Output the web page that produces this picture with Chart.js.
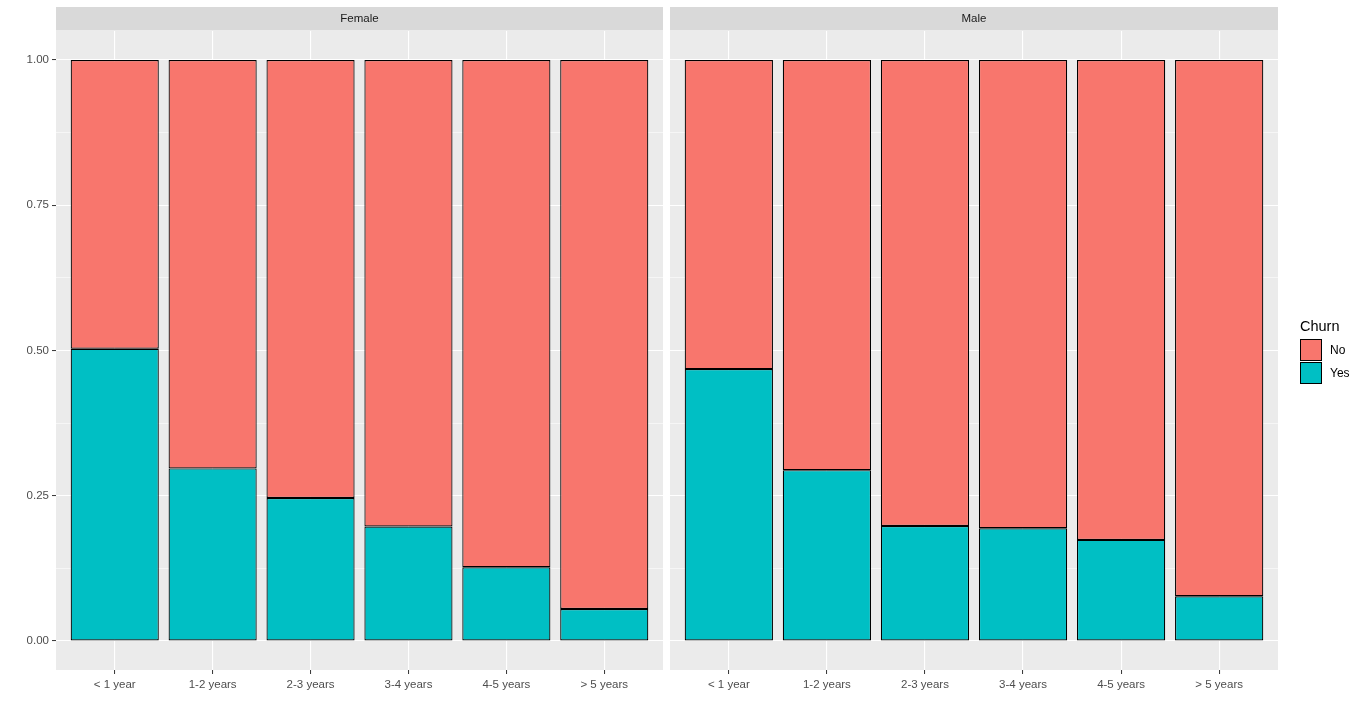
<!DOCTYPE html>
<html>
<head>
<meta charset="utf-8">
<script src="https://cdn.jsdelivr.net/npm/chart.js@4/dist/chart.umd.min.js"></script>
<style>
  html, body { margin: 0; padding: 0; background: #fff; }
  #wrap { position: relative; width: 1366px; height: 715px; }
  canvas { position: absolute; top: 0; }
  #cFemale { left: 0; }
  #cMale { left: 666px; }
</style>
</head>
<body>
<div id="wrap">
  <canvas id="cFemale" width="666" height="715"></canvas>
  <canvas id="cMale" width="700" height="715"></canvas>
</div>
<script>
// ===== datos =====
const categorias = ["< 1 year", "1-2 years", "2-3 years", "3-4 years", "4-5 years", "> 5 years"];
const femaleYes = [0.503, 0.297, 0.246, 0.197, 0.127, 0.055];
const femaleNo  = [0.497, 0.703, 0.754, 0.803, 0.873, 0.945];
const maleYes   = [0.468, 0.294, 0.198, 0.194, 0.174, 0.077];
const maleNo    = [0.532, 0.706, 0.802, 0.806, 0.826, 0.923];
const yTicks    = [0, 0.25, 0.5, 0.75, 1];
const yMinor    = [0.125, 0.375, 0.625, 0.875];

const COLOR_NO = "#F8766D";
const COLOR_YES = "#00BFC4";
const FONT = "'Liberation Sans', Arial, sans-serif";

function esMayor(v) {
  return yTicks.some(t => Math.abs(t - v) < 1e-9);
}

function puntos(valores) {
  return valores.map((v, i) => ({ x: i + 1, y: v }));
}

// panel gris + tira con el titulo
const panelPlugin = {
  id: "panel",
  beforeDraw(chart, args, opts) {
    const { ctx, chartArea: a } = chart;
    ctx.save();
    ctx.fillStyle = "#EBEBEB";
    ctx.fillRect(a.left, 30, a.right - a.left, a.bottom - 30);
    ctx.fillStyle = "#D9D9D9";
    ctx.fillRect(a.left, 7, a.right - a.left, 23);
    ctx.fillStyle = "#1A1A1A";
    ctx.font = "11.5px " + FONT;
    ctx.textAlign = "center";
    ctx.textBaseline = "middle";
    ctx.fillText(opts.titulo, (a.left + a.right) / 2, 19);
    ctx.restore();
  }
};

// leyenda a la derecha (solo en el panel Male)
const leyendaPlugin = {
  id: "leyenda",
  afterDraw(chart, args, opts) {
    if (!opts.mostrar) return;
    const ctx = chart.ctx;
    const x = 1300 - 666;
    ctx.save();
    ctx.fillStyle = "#000";
    ctx.font = "14.5px " + FONT;
    ctx.textBaseline = "alphabetic";
    ctx.fillText("Churn", x, 331);
    const items = [["No", COLOR_NO, 339], ["Yes", COLOR_YES, 362]];
    items.forEach(([txt, col, y]) => {
      ctx.fillStyle = col;
      ctx.fillRect(x, y, 22, 22);
      ctx.strokeStyle = "#000";
      ctx.lineWidth = 1;
      ctx.strokeRect(x + 0.5, y + 0.5, 21, 21);
      ctx.fillStyle = "#000";
      ctx.font = "12px " + FONT;
      ctx.textBaseline = "middle";
      ctx.fillText(txt, x + 30, y + 12);
    });
    ctx.restore();
  }
};

function crearPanel(id, titulo, yes, no, conEjeY, conLeyenda, padding) {
  return new Chart(document.getElementById(id).getContext("2d"), {
    type: "bar",
    data: {
      datasets: [
        { label: "Yes", data: puntos(yes), backgroundColor: COLOR_YES },
        { label: "No",  data: puntos(no),  backgroundColor: COLOR_NO }
      ]
    },
    options: {
      responsive: false,
      animation: false,
      devicePixelRatio: 1,
      datasets: {
        bar: {
          borderColor: "#000",
          borderWidth: 1.2,
          borderSkipped: false,
          categoryPercentage: 1,
          barPercentage: 0.9
        }
      },
      layout: { padding },
      plugins: {
        legend: { display: false },
        tooltip: { enabled: false },
        panel: { titulo },
        leyenda: { mostrar: conLeyenda }
      },
      scales: {
        x: {
          type: "linear",
          stacked: true,
          offset: false,
          min: 0.4,
          max: 6.6,
          afterBuildTicks: s => { s.ticks = categorias.map((c, i) => ({ value: i + 1 })); },
          afterFit: s => { s.height = 45; },
          border: { display: false },
          grid: {
            offset: false,
            color: "#FFFFFF",
            lineWidth: 1.1,
            drawTicks: true,
            tickLength: 4,
            tickColor: "#333333",
            tickWidth: 1
          },
          ticks: {
            autoSkip: false,
            maxRotation: 0,
            padding: 4,
            color: "#4D4D4D",
            font: { family: FONT, size: 11.5 },
            callback: v => categorias[Math.round(v) - 1]
          }
        },
        y: {
          stacked: true,
          min: -0.05,
          max: 1.05,
          afterBuildTicks: s => {
            s.ticks = [...yTicks, ...yMinor].sort((a, b) => a - b).map(v => ({ value: v }));
          },
          afterFit: s => { s.width = conEjeY ? 56 : 0; },
          border: { display: false },
          grid: {
            color: "#FFFFFF",
            lineWidth: c => esMayor(c.tick.value) ? 1.1 : 0.55,
            drawTicks: conEjeY,
            tickLength: 4,
            tickColor: c => esMayor(c.tick.value) ? "#333333" : "rgba(0,0,0,0)",
            tickWidth: 1
          },
          ticks: {
            display: conEjeY,
            padding: 3,
            color: "#4D4D4D",
            font: { family: FONT, size: 11.5 },
            callback: v => esMayor(v) ? v.toFixed(2) : ""
          }
        }
      }
    },
    plugins: [panelPlugin, leyendaPlugin]
  });
}

crearPanel("cFemale", "Female", femaleYes, femaleNo, true, false,
  { left: 0, right: 3, top: 31, bottom: 0 });
crearPanel("cMale", "Male", maleYes, maleNo, false, true,
  { left: 4, right: 88, top: 31, bottom: 0 });
</script>
</body>
</html>
